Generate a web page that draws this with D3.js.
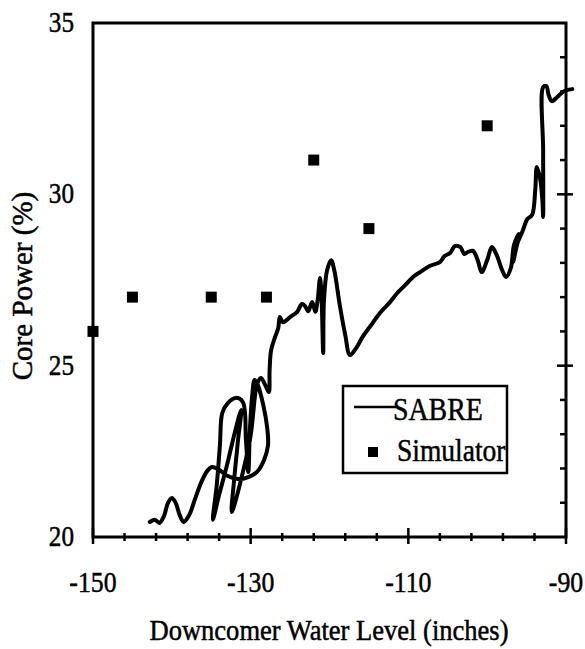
<!DOCTYPE html>
<html>
<head>
<meta charset="utf-8">
<script src="https://cdn.jsdelivr.net/npm/d3@7"></script>
<style>
  body { margin: 0; background: #fff; }
  text { font-family: "Liberation Serif", "DejaVu Serif", serif; fill: #000; stroke: #000; stroke-width: 0.5px; }
</style>
</head>
<body>
<div id="chart"></div>
<script>
// SABRE trace (downcomer level in inches, core power in %)
const sabreLevel = [
  -142.8, -142.1, -141.6, -141.0, -140.5, -140.0, -139.5, -139.0, -138.5, -137.8,
  -137.1, -136.3, -135.5, -134.9, -134.0, -132.9, -131.6, -130.3, -129.2, -128.3,
  -127.8, -127.9, -128.4, -129.1, -129.5, -129.8, -130.1, -130.3, -130.6, -131.0,
  -131.9, -132.9, -133.6, -133.9, -134.3, -134.8, -134.0, -133.0, -132.0, -131.2,
  -131.6, -132.1, -132.4, -130.1, -129.2, -128.7, -128.2, -127.7, -127.6, -127.4,
  -126.9, -126.5, -126.3, -125.9, -125.0, -124.1, -123.5, -123.1, -122.7, -122.2,
  -121.8, -121.5, -121.2, -121.0, -120.8, -120.7, -120.3, -119.8, -119.4, -118.7,
  -118.0, -117.4, -116.6, -115.8, -114.6, -113.6, -112.3, -111.4, -110.4, -109.4,
  -108.3, -107.3, -106.0, -105.4, -104.7, -104.1, -103.4, -102.9, -102.4, -101.8,
  -101.2, -100.7, -100.0, -99.4, -98.8, -98.1, -97.6, -97.0, -96.6, -96.0,
  -96.5, -96.7, -96.1, -95.5, -94.9, -94.3, -93.9, -93.7, -93.3, -93.0,
  -92.9, -92.9, -92.9, -92.5, -92.2, -91.8, -91.1, -90.4, -89.9, -89.2
];
const sabrePower = [
  20.44, 20.50, 20.41, 20.61, 20.99, 21.14, 20.99, 20.64, 20.44, 20.64,
  21.08, 21.58, 21.93, 22.04, 21.96, 21.78, 21.69, 21.75, 21.90, 22.25,
  22.68, 23.18, 23.85, 24.44, 24.58, 24.14, 23.12, 21.90, 22.83, 23.94,
  24.06, 23.91, 23.62, 22.68, 21.52, 20.50, 21.23, 22.10, 23.06, 23.71,
  22.83, 21.66, 20.73, 22.83, 24.44, 24.64, 24.46, 24.23, 24.87, 25.46,
  25.84, 26.10, 26.42, 26.27, 26.42, 26.57, 26.80, 26.74, 26.59, 26.86,
  26.57, 26.92, 27.56, 26.92, 25.37, 26.92, 27.79, 28.08, 27.79, 26.77,
  25.89, 25.31, 25.52, 25.84, 26.22, 26.54, 26.86, 27.12, 27.35, 27.59,
  27.76, 27.91, 28.02, 28.20, 28.29, 28.49, 28.46, 28.26, 28.32, 28.35,
  28.08, 27.73, 28.08, 28.46, 28.23, 27.79, 27.59, 27.85, 28.52, 28.84,
  28.32, 28.02, 28.61, 28.93, 29.28, 29.40, 30.13, 30.80, 30.48, 29.83,
  29.34, 31.29, 33.13, 33.16, 32.90, 32.72, 32.84, 32.99, 33.04, 33.07
];

// Simulator points
const simLevel = [-150, -145, -135, -128, -122, -115, -100];
const simPower = [26, 27, 27, 27, 31, 29, 32];

// Ticks
const xMajor = [-150, -130, -110, -90];
const xMinor = [-146, -142, -138, -134, -126, -122, -118, -114, -106, -102, -98, -94];
const yLabels = [20, 25, 30, 35];
const yMajor = [25, 30];
const yMinor = [21, 22, 23, 24, 26, 27, 28, 29, 31, 32, 33, 34];

const width = 585, height = 649;
const svg = d3.select("#chart").append("svg")
  .attr("width", width).attr("height", height);

const x = d3.scaleLinear().domain([-150, -90]).range([93, 566]);
const y = d3.scaleLinear().domain([20, 35]).range([537, 23]);

// the scanned type is narrow, so squeeze text a bit horizontally
function label(g, tx, ty, str, size, sx, anchor) {
  return g.append("text")
    .attr("transform", `translate(${tx},${ty}) scale(${sx},1)`)
    .attr("text-anchor", anchor || "start")
    .style("font-size", size + "px")
    .text(str);
}

// frame
svg.append("rect")
  .attr("x", x(-150)).attr("y", y(35))
  .attr("width", x(-90) - x(-150)).attr("height", y(20) - y(35))
  .attr("fill", "none").attr("stroke", "#000").attr("stroke-width", 3);

// bottom ticks (cross the axis)
svg.append("g").selectAll("line")
  .data(xMinor).enter().append("line")
  .attr("x1", d => x(d)).attr("x2", d => x(d))
  .attr("y1", y(20) - 4).attr("y2", y(20) + 4)
  .attr("stroke", "#000").attr("stroke-width", 2.5);
svg.append("g").selectAll("line")
  .data(xMajor).enter().append("line")
  .attr("x1", d => x(d)).attr("x2", d => x(d))
  .attr("y1", y(20) - 9).attr("y2", y(20) + 7)
  .attr("stroke", "#000").attr("stroke-width", 2.5);

// right axis ticks (inward)
svg.append("g").selectAll("line")
  .data(yMinor).enter().append("line")
  .attr("x1", x(-90) - 6).attr("x2", x(-90))
  .attr("y1", d => y(d)).attr("y2", d => y(d))
  .attr("stroke", "#000").attr("stroke-width", 2.5);
svg.append("g").selectAll("line")
  .data(yMajor).enter().append("line")
  .attr("x1", x(-90) - 9).attr("x2", x(-90) + 7)
  .attr("y1", d => y(d)).attr("y2", d => y(d))
  .attr("stroke", "#000").attr("stroke-width", 2.5);

// tick labels
const xl = svg.append("g");
xMajor.forEach(d => label(xl, x(d), 592, d, 30, 0.86, "middle"));
const yl = svg.append("g");
yLabels.forEach(d => label(yl, 74, y(d) + 9, d, 30, 0.84, "end"));

// axis titles
label(svg, 329, 640, "Downcomer Water Level (inches)", 29, 0.915, "middle");
svg.append("text")
  .attr("transform", "translate(32,286) rotate(-90)")
  .attr("text-anchor", "middle")
  .style("font-size", "29px")
  .text("Core Power (%)");

// SABRE line
const sabre = sabreLevel.map((v, i) => [v, sabrePower[i]]);
svg.append("path")
  .datum(sabre)
  .attr("d", d3.line().x(d => x(d[0])).y(d => y(d[1])).curve(d3.curveCatmullRom.alpha(0.5)))
  .attr("fill", "none")
  .attr("stroke", "#000")
  .attr("stroke-width", 4)
  .attr("stroke-linejoin", "round")
  .attr("stroke-linecap", "round");

// Simulator squares
const sq = 11;
svg.append("g").selectAll("rect")
  .data(simLevel.map((v, i) => [v, simPower[i]]))
  .enter().append("rect")
  .attr("x", d => x(d[0]) - sq / 2).attr("y", d => y(d[1]) - sq / 2)
  .attr("width", sq).attr("height", sq)
  .attr("fill", "#000");

// legend
const lg = svg.append("g");
lg.append("rect")
  .attr("x", 343).attr("y", 386).attr("width", 164).attr("height", 87)
  .attr("fill", "#fff").attr("stroke", "#000").attr("stroke-width", 2.5);
lg.append("line")
  .attr("x1", 354).attr("x2", 396).attr("y1", 407).attr("y2", 407)
  .attr("stroke", "#000").attr("stroke-width", 2.5);
label(lg, 393, 420, "SABRE", 32, 0.87);
lg.append("rect")
  .attr("x", 368).attr("y", 447).attr("width", 10).attr("height", 10)
  .attr("fill", "#000");
label(lg, 397, 461, "Simulator", 32, 0.86);
</script>
</body>
</html>
